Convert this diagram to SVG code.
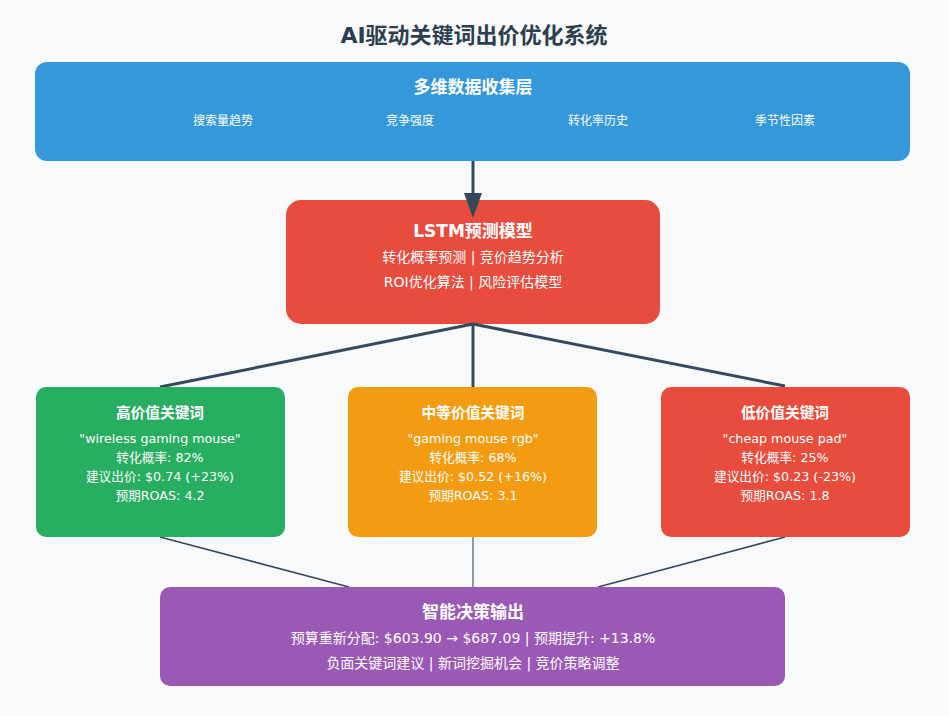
<svg xmlns="http://www.w3.org/2000/svg" width="949" height="716" viewBox="0 0 949 716">
<defs>
<style>
.t{font-family:"DejaVu Sans","Noto Sans CJK SC",sans-serif;fill:#fff;text-anchor:middle}
.h{font-weight:bold;font-size:17px}
.ch{font-weight:bold;font-size:14.7px}
.cl{font-size:12.7px}
.ml{font-size:14px}
.title{font-family:"DejaVu Sans","Noto Sans CJK SC",sans-serif;font-weight:bold;font-size:22px;fill:#2c3e50;text-anchor:middle}
</style>
</defs>
<rect width="949" height="716" fill="#f8f9fa"/>
<text class="title" x="474" y="43">AI驱动关键词出价优化系统</text>

<g id="data-layer">
<rect x="35" y="62" width="875" height="99" rx="12" fill="#3498db"/>
<text class="t h" x="473" y="93">多维数据收集层</text>
<text class="t" x="223" y="125" font-size="12">搜索量趋势</text>
<text class="t" x="410" y="125" font-size="12">竞争强度</text>
<text class="t" x="598" y="125" font-size="12">转化率历史</text>
<text class="t" x="785" y="125" font-size="12">季节性因素</text>
</g>

<g id="lstm">
<rect x="286" y="200" width="374" height="124" rx="15" fill="#e74c3c"/>
<text class="t h" x="473" y="237">LSTM预测模型</text>
<text class="t ml" x="473" y="262">转化概率预测 | 竞价趋势分析</text>
<text class="t ml" x="473" y="287">ROI优化算法 | 风险评估模型</text>
</g>

<g id="connectors" fill="none" stroke="#34495e">
<line x1="473" y1="161" x2="473" y2="193" stroke-width="3"/>
<path d="M464,193 L482,193 L473,218 Z" fill="#34495e" stroke="none"/>
<line x1="473" y1="324" x2="160" y2="387" stroke-width="3"/>
<line x1="473" y1="324" x2="473" y2="387" stroke-width="3"/>
<line x1="473" y1="324" x2="785" y2="386" stroke-width="3"/>
<line x1="160" y1="537" x2="349" y2="587" stroke-width="1.5"/>
<line x1="473" y1="537" x2="473" y2="587" stroke-width="1.5" stroke="#6c7a89"/>
<line x1="785" y1="537" x2="598" y2="587" stroke-width="1.5"/>
</g>

<g id="high-value">
<rect x="36" y="387" width="249" height="150" rx="10" fill="#27ae60"/>
<text class="t ch" x="160" y="418">高价值关键词</text>
<text class="t cl" x="160" y="443">"wireless gaming mouse"</text>
<text class="t cl" x="160" y="462">转化概率: 82%</text>
<text class="t cl" x="160" y="481">建议出价: $0.74 (+23%)</text>
<text class="t cl" x="160" y="500">预期ROAS: 4.2</text>
</g>

<g id="mid-value">
<rect x="348" y="387" width="249" height="150" rx="10" fill="#f39c12"/>
<text class="t ch" x="473" y="418">中等价值关键词</text>
<text class="t cl" x="473" y="443">"gaming mouse rgb"</text>
<text class="t cl" x="473" y="462">转化概率: 68%</text>
<text class="t cl" x="473" y="481">建议出价: $0.52 (+16%)</text>
<text class="t cl" x="473" y="500">预期ROAS: 3.1</text>
</g>

<g id="low-value">
<rect x="661" y="387" width="249" height="150" rx="10" fill="#e74c3c"/>
<text class="t ch" x="785" y="418">低价值关键词</text>
<text class="t cl" x="785" y="443">"cheap mouse pad"</text>
<text class="t cl" x="785" y="462">转化概率: 25%</text>
<text class="t cl" x="785" y="481">建议出价: $0.23 (-23%)</text>
<text class="t cl" x="785" y="500">预期ROAS: 1.8</text>
</g>

<g id="output">
<rect x="160" y="587" width="625" height="99" rx="10" fill="#9b59b6"/>
<text class="t h" x="473" y="618">智能决策输出</text>
<text class="t ml" x="473" y="643">预算重新分配: $603.90 → $687.09 | 预期提升: +13.8%</text>
<text class="t ml" x="473" y="668">负面关键词建议 | 新词挖掘机会 | 竞价策略调整</text>
</g>
</svg>
